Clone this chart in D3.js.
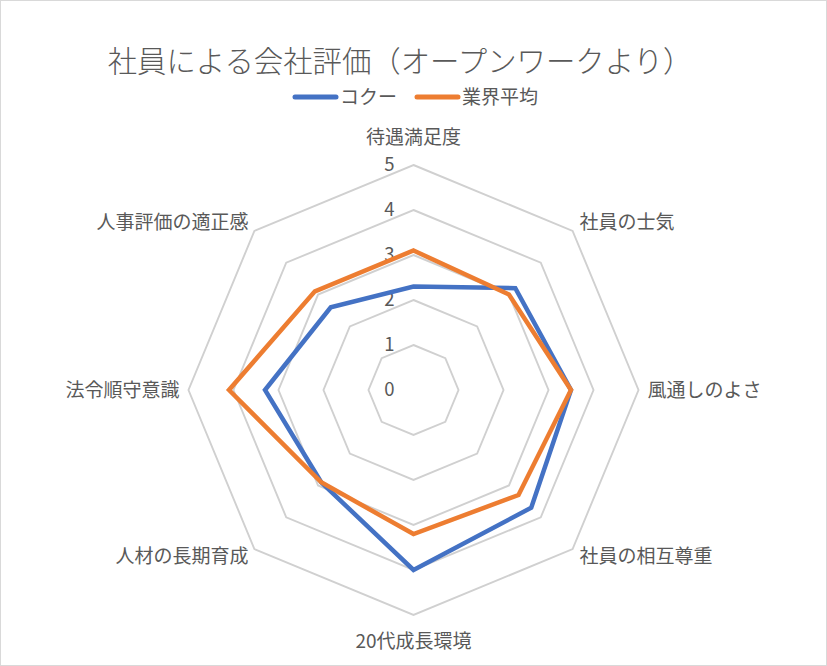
<!DOCTYPE html>
<html><head><meta charset="utf-8">
<script src="https://cdn.jsdelivr.net/npm/d3@7"></script>
<style>
html,body{margin:0;padding:0;background:#fff;}
text{font-family:"Noto Sans CJK JP","Noto Sans",sans-serif;fill:#595959;}
</style></head>
<body>
<svg id="chart" width="827" height="666"></svg>
<script>
const categories = ["待遇満足度","社員の士気","風通しのよさ","社員の相互尊重","20代成長環境","人材の長期育成","法令順守意識","人事評価の適正感"];
const seriesNames = ["コクー","業界平均"];
const kokuuValues = [2.3, 3.2, 3.5, 3.7, 4.0, 2.9, 3.3, 2.6];
const industryValues = [3.1, 3.0, 3.5, 3.3, 3.2, 2.9, 4.1, 3.1];
const tickValues = [0, 1, 2, 3, 4, 5];
const colors = ["#4472C4", "#ED7D31"];
const title = "社員による会社評価（オープンワークより）";

const W = 827, H = 666;
const cx = 413.5, cy = 390, R = 225;
const svg = d3.select("#chart");

svg.append("rect").attr("x",0.5).attr("y",0.5).attr("width",W-1).attr("height",H-1)
  .attr("fill","#fff").attr("stroke","#d9d9d9").attr("stroke-width",1);

const r = d3.scaleLinear().domain([0,5]).range([0,R]);
const angle = d3.scaleLinear().domain([0,categories.length]).range([0,2*Math.PI]);
const g = svg.append("g").attr("transform",`translate(${cx},${cy})`);

const pt = (i,v) => [Math.sin(angle(i))*r(v), -Math.cos(angle(i))*r(v)];

// grid octagons
tickValues.filter(t=>t>0).forEach(t=>{
  g.append("path")
    .attr("d", d3.line()(categories.map((c,i)=>pt(i,t))) + "Z")
    .attr("fill","none").attr("stroke","#d0d0d0").attr("stroke-width",1.9);
});

// tick labels
g.selectAll(".tick").data(tickValues).join("text")
  .attr("x",-19).attr("y",d=>-r(d)).attr("dy","0.35em")
  .attr("text-anchor","end").attr("font-size",18.5).text(d=>d);

// category labels
categories.forEach((c,i)=>{
  const a = angle(i);
  const s = Math.sin(a), co = -Math.cos(a);
  let x, y, anchor;
  const p = pt(i,5);
  if (Math.abs(s) < 1e-6) { // top / bottom
    x = 0; anchor = "middle";
    y = co < 0 ? p[1] - 28 : p[1] + 26;
  } else if (Math.abs(co) < 1e-6) { // left / right
    y = 0; anchor = s > 0 ? "start" : "end";
    x = s > 0 ? p[0] + 9 : p[0] - 9;
  } else {
    anchor = s > 0 ? "start" : "end";
    x = s > 0 ? p[0] + 7 : p[0] - 6;
    y = p[1] + (co < 0 ? -9 : 7);
  }
  g.append("text").attr("x",x).attr("y",y).attr("dy","0.35em")
    .attr("text-anchor",anchor).attr("font-size",19).text(c);
});

// series
const allSeries = [kokuuValues, industryValues];
const line = d3.line().curve(d3.curveLinearClosed);
allSeries.forEach((vals,k)=>{
  g.append("path")
    .attr("d", line(vals.map((v,i)=>pt(i,v))))
    .attr("fill","none").attr("stroke",colors[k]).attr("stroke-width",4.5)
    .attr("stroke-linejoin","miter");
});

// title
svg.append("text").attr("x",400).attr("y",72).attr("text-anchor","middle")
  .attr("font-size",29.4).attr("font-weight",300).text(title);

// legend
const legendItems = [{x:295, name:seriesNames[0], c:colors[0]},{x:417, name:seriesNames[1], c:colors[1]}];
legendItems.forEach(d=>{
  svg.append("line").attr("x1",d.x).attr("x2",d.x+41).attr("y1",97).attr("y2",97)
    .attr("stroke",d.c).attr("stroke-width",5).attr("stroke-linecap","round");
  svg.append("text").attr("x",d.x+45).attr("y",97).attr("dy","0.35em")
    .attr("font-size",19).text(d.name);
});
</script>
</body></html>
